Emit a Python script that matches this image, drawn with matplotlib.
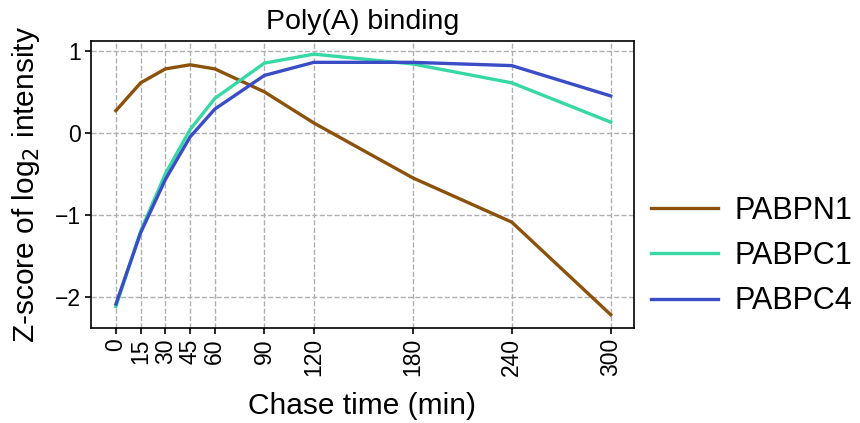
import matplotlib
matplotlib.use("Agg")
import matplotlib.pyplot as plt

plt.rcParams['font.family'] = ['Liberation Sans', 'DejaVu Sans']

chase_time = [0, 15, 30, 45, 60, 90, 120, 180, 240, 300]
pabpn1 = [0.27, 0.61, 0.78, 0.83, 0.78, 0.50, 0.12, -0.55, -1.09, -2.22]
pabpc1 = [-2.12, -1.20, -0.50, 0.04, 0.42, 0.85, 0.96, 0.84, 0.61, 0.13]
pabpc4 = [-2.09, -1.22, -0.57, -0.05, 0.29, 0.70, 0.86, 0.86, 0.82, 0.45]

fig = plt.figure(figsize=(8.6, 4.23), dpi=100)
ax = fig.add_axes([0.106, 0.225, 0.631, 0.678])

ax.plot(chase_time, pabpn1, color='#8c510a', linewidth=2.4, label='PABPN1')
ax.plot(chase_time, pabpc1, color='#36d8a4', linewidth=2.4, label='PABPC1')
ax.plot(chase_time, pabpc4, color='#3a4dc6', linewidth=2.4, label='PABPC4')

ax.set_xlim(-15, 314)
ax.set_ylim(-2.38, 1.12)
ax.set_xticks(chase_time)
ax.set_xticklabels([str(t) for t in chase_time], rotation=90, fontsize=16.5)
ax.set_yticks([-2, -1, 0, 1])
ax.set_yticklabels(['\u22122', '\u22121', '0', '1'], fontsize=16.5)
ax.grid(color='#b0b0b0', linestyle='--', linewidth=1)
ax.set_axisbelow(True)
for s in ax.spines.values():
    s.set_linewidth(1.2)
ax.tick_params(width=1.2, length=4)

ax.set_title('Poly(A) binding', fontsize=20.5, pad=9)
ax.set_xlabel('Chase time (min)', fontsize=21.5, labelpad=11)
ax.set_ylabel('Z-score of log$_2$ intensity', fontsize=21.5, labelpad=9)

ax.legend(loc='center left', bbox_to_anchor=(1.031, 0.25), frameon=False,
          fontsize=22, handlelength=2.2, handletextpad=0.55, labelspacing=0.5,
          borderaxespad=0, borderpad=0)

fig.savefig('out.png', dpi=100)
